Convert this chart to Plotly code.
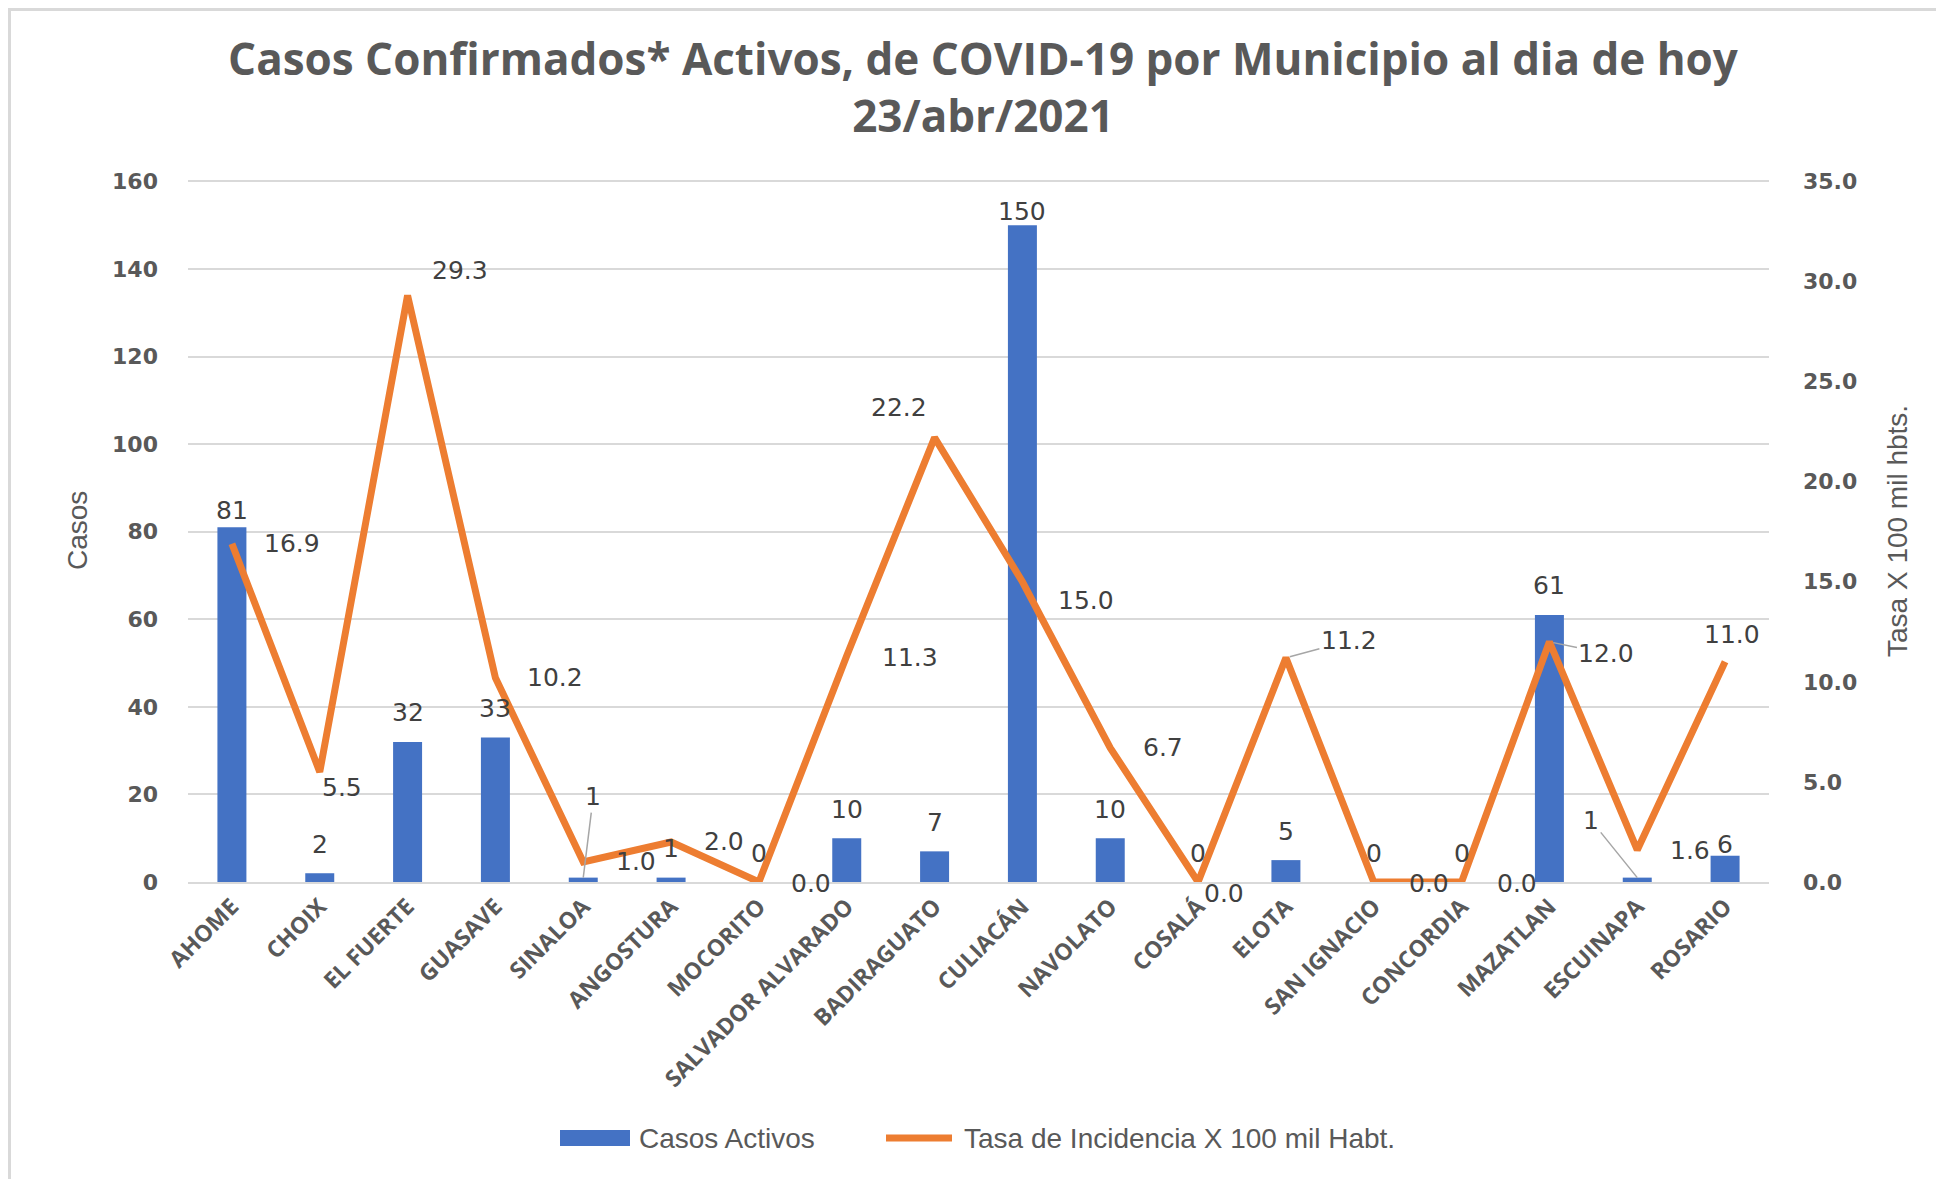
import plotly.graph_objects as go

municipios = ["AHOME", "CHOIX", "EL FUERTE", "GUASAVE", "SINALOA", "ANGOSTURA", "MOCORITO",
              "SALVADOR ALVARADO", "BADIRAGUATO", "CULIACÁN", "NAVOLATO", "COSALÁ", "ELOTA",
              "SAN IGNACIO", "CONCORDIA", "MAZATLAN", "ESCUINAPA", "ROSARIO"]
casos_activos = [81, 2, 32, 33, 1, 1, 0, 10, 7, 150, 10, 0, 5, 0, 0, 61, 1, 6]
tasa_incidencia = [16.9, 5.5, 29.3, 10.2, 1.0, 2.0, 0.0, 11.3, 22.2, 15.0, 6.7, 0.0, 11.2,
                   0.0, 0.0, 12.0, 1.6, 11.0]

BLUE = "#4472C4"
ORANGE = "#ED7D31"
GRID = "#D9D9D9"
TXT = "#595959"
LBL = "#404040"

W, H = 1936, 1171
L, R, T, B = 180, 175, 172, 297
PW, PH = W - L - R, H - T - B


def px(X):
    return (X - L) / PW


def py(Y):
    return (H - B - Y) / PH


fig = go.Figure()
fig.add_trace(go.Bar(x=municipios, y=casos_activos, name="Casos Activos",
                     marker=dict(color=BLUE, line=dict(width=0)), yaxis="y", showlegend=False))
fig.add_trace(go.Scatter(x=municipios, y=tasa_incidencia, name="Tasa de Incidencia X 100 mil Habt.",
                         mode="lines", line=dict(color=ORANGE, width=7), yaxis="y2",
                         showlegend=False))

LFONT = dict(family="DejaVu Sans", size=25, color=LBL)

# label offsets (pixels) - style only
bar_lead = {4: (10, 81), 16: (-46, 57)}
bar_shift = {0: 17, 9: 14, 17: 11}
line_off = {0: (60, 0), 1: (22, -16), 2: (52, 25), 3: (60, 0), 4: (53, 0), 5: (53, 0),
            6: (52, -1), 7: (63, -2), 8: (-36, 30), 9: (64, -19), 10: (53, 0), 11: (26, -11),
            12: (63, 17, True), 13: (55, -1), 14: (55, -1), 15: (57, -12, True), 16: (53, -1),
            17: (7, 27)}

ann = []
for i, (m, v) in enumerate(zip(municipios, casos_activos)):
    if i in bar_lead:
        ax, ay = bar_lead[i]
        ann.append(dict(x=m, y=v, xref="x", yref="y", text=str(v), showarrow=True,
                        arrowhead=0, arrowwidth=1.5, arrowcolor="#A6A6A6", ax=ax, ay=-ay,
                        font=LFONT))
    else:
        ann.append(dict(x=m, y=v, xref="x", yref="y", text=str(v), showarrow=False,
                        yanchor="middle", yshift=bar_shift.get(i, 29), font=LFONT))

for i, (m, v) in enumerate(zip(municipios, tasa_incidencia)):
    off = line_off[i]
    if len(off) == 3:
        ann.append(dict(x=m, y=v, xref="x", yref="y2", text=f"{v:.1f}", showarrow=True,
                        arrowhead=0, arrowwidth=1.5, arrowcolor="#A6A6A6",
                        ax=off[0], ay=-off[1], standoff=4, font=LFONT))
    else:
        ann.append(dict(x=m, y=v, xref="x", yref="y2", text=f"{v:.1f}", showarrow=False,
                        xshift=off[0], yshift=off[1], font=LFONT))

# axis titles
ATF = dict(family="Liberation Sans", size=28, color=TXT)
ann.append(dict(x=px(69), y=0.5, xref="paper", yref="paper", text="Casos", textangle=-90,
                xanchor="center", yanchor="middle", showarrow=False, font=ATF))
ann.append(dict(x=px(1889), y=0.5, xref="paper", yref="paper", text="Tasa X 100 mil hbts.",
                xanchor="center", yanchor="middle", textangle=-90, showarrow=False, font=ATF))

# custom legend
LEGF = dict(family="Liberation Sans", size=28, color=TXT)
ly = 1130
ann.append(dict(x=px(629), y=py(ly), xref="paper", yref="paper", text="Casos Activos",
                xanchor="left", yanchor="middle", showarrow=False, font=LEGF))
ann.append(dict(x=px(954), y=py(ly), xref="paper", yref="paper",
                text="Tasa de Incidencia X 100 mil Habt.",
                xanchor="left", yanchor="middle", showarrow=False, font=LEGF))

shapes = [
    dict(type="line", xref="paper", yref="paper", x0=px(0), x1=px(W), y0=py(1.5), y1=py(1.5),
         line=dict(color=GRID, width=3)),
    dict(type="line", xref="paper", yref="paper", x0=px(1.5), x1=px(1.5), y0=py(1.5), y1=py(H),
         line=dict(color=GRID, width=3)),
    dict(type="rect", xref="paper", yref="paper", x0=px(552), x1=px(622), y0=py(1138),
         y1=py(1122), fillcolor=BLUE, line=dict(width=0)),
    dict(type="line", xref="paper", yref="paper", x0=px(878), x1=px(944), y0=py(ly), y1=py(ly),
         line=dict(color=ORANGE, width=7)),
]

EXT = 1.002
fig.update_layout(
    width=W, height=H,
    margin=dict(l=L, r=R, t=T, b=B),
    paper_bgcolor="white", plot_bgcolor="white",
    title=dict(text="Casos Confirmados* Activos, de COVID-19 por Municipio al dia de hoy<br>23/abr/2021",
               x=975 / W, xanchor="center", y=1 - 67 / H, yanchor="middle",
               font=dict(family="Open Sans", size=44, color=TXT, weight="bold")),
    bargap=0.67,
    showlegend=False,
    xaxis=dict(tickangle=-45, showgrid=False, showline=True, linecolor=GRID, linewidth=2,
               tickfont=dict(family="Open Sans", size=23, color=TXT, weight="bold"),
               ticks=""),
    yaxis=dict(range=[0, 160 * EXT], dtick=20, showgrid=True, gridcolor=GRID, gridwidth=2,
               zeroline=False, ticks="", ticklabelstandoff=29,
               tickfont=dict(family="DejaVu Sans", size=22, color=TXT, weight="bold")),
    yaxis2=dict(range=[0, 35 * EXT], dtick=5, tickformat=".1f", overlaying="y", side="right",
                showgrid=False, zeroline=False, ticks="", ticklabelstandoff=33,
                tickfont=dict(family="DejaVu Sans", size=22, color=TXT, weight="bold")),
    annotations=ann,
    shapes=shapes,
)

fig.write_html("out.html")
